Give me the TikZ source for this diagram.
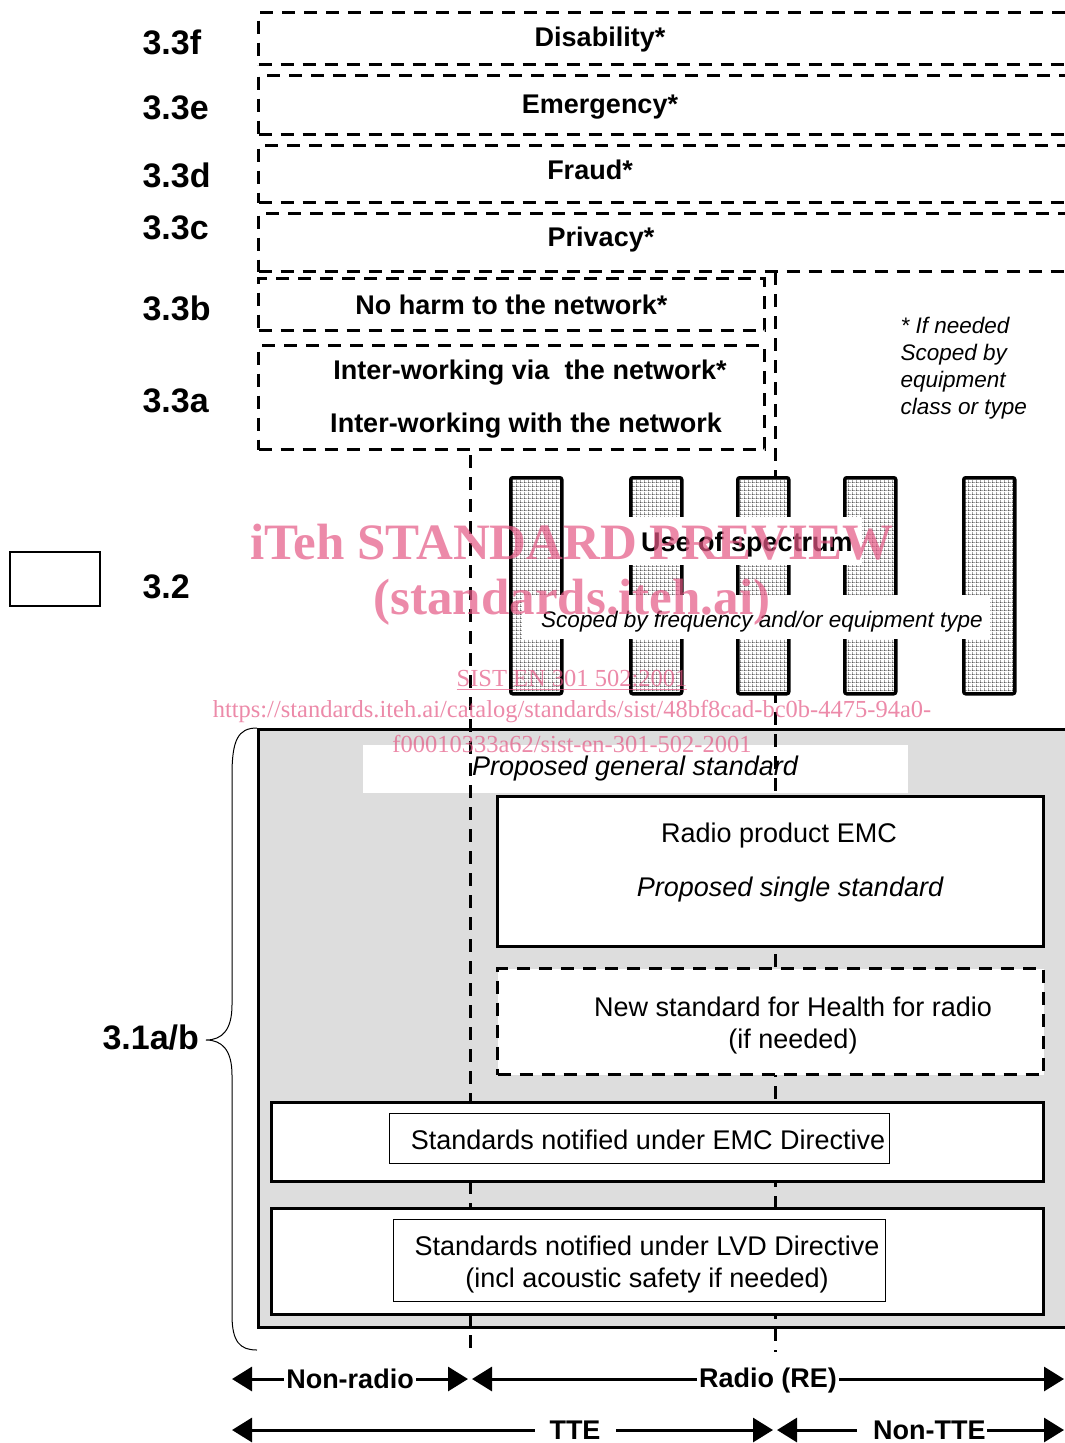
\documentclass[tikz,border=0pt]{standalone}
\usepackage{fontspec}
\setmainfont{Liberation Sans}
\newfontfamily\wmfont{Liberation Serif}
\usetikzlibrary{positioning,arrows.meta,patterns.meta}

\definecolor{panelgray}{RGB}{221,221,221}
\definecolor{wmpink}{RGB}{228,88,132}

\tikzdeclarepattern{
  name=finegrid,
  type=uncolored,
  bounding box={(0pt,0pt) and (4pt,4pt)},
  tile size={(4pt,4pt)},
  code={\draw[line width=1.2pt] (0pt,0pt) -- (4pt,0pt) (0pt,0pt) -- (0pt,4pt);}
}

\begin{document}
\begin{tikzpicture}[
    x=1pt, y=-1pt,
    font=\fontsize{27}{32}\selectfont,
    >={Triangle[length=20pt,width=24pt]},
    optbox/.style ={draw, line width=3pt, dash pattern=on 13pt off 9pt,
                    inner sep=0pt, anchor=north west},
    stdbox/.style ={draw, line width=3pt, fill=white, inner sep=0pt,
                    anchor=north west},
    inbox/.style  ={draw, line width=1pt, fill=white, inner sep=0pt,
                    anchor=north west},
    band/.style   ={draw, line width=3.5pt, rounded corners=2pt,
                    preaction={fill=white}, pattern=finegrid,
                    inner sep=0pt, minimum width=51pt, minimum height=216pt,
                    anchor=north west},
    tag/.style    ={fill=white, inner sep=0pt},
    head/.style   ={font=\bfseries\fontsize{27}{32}\selectfont},
    slant/.style  ={font=\itshape\fontsize{27}{32}\selectfont},
    note/.style   ={font=\itshape\fontsize{22.5}{27}\selectfont},
    sec/.style    ={font=\bfseries\fontsize{34}{40}\selectfont, anchor=west},
    divider/.style={line width=3pt, dash pattern=on 13pt off 9pt},
    span/.style   ={<->, line width=3pt},
    gap/.style    ={head, fill=white, inner ysep=2pt},
    wm/.style     ={text=wmpink, text opacity=0.7,
                    font=\wmfont\fontsize{24.5}{30}\selectfont},
    wmbig/.style  ={wm, font=\wmfont\bfseries\fontsize{51}{60}\selectfont},
  ]
  \useasboundingbox (0,0) rectangle (1065,1443);
  \clip (0,0) rectangle (1065,1443);

  % ------------------------------------------------------ 3.1 panel ---
  \node[stdbox, fill=panelgray, minimum width=850pt, minimum height=598pt]
        (panel) at (257,728) {};
  \node[tag, slant, minimum width=545pt, minimum height=48pt]
        (general) at (635,769) {Proposed general standard};

  % ------------------------------------------ non-radio / radio / TTE ---
  \coordinate (radtop) at (470,455);
  \coordinate (radbot) at (470,1352);
  \coordinate (ttetop) at (775,272);
  \coordinate (ttebot) at (775,1352);
  \draw[divider] (radtop) -- (radbot);
  \draw[divider] (ttetop) -- (ttebot);

  % ------------------------------------------------ boxes in the panel ---
  \node[stdbox, minimum width=546pt, minimum height=150pt] (rpemc) at (496,795) {};
  \node (rpemcT) at (779,836) {Radio product EMC};
  \node[slant] (rpemcS) at (790,890) {Proposed single standard};

  \node[optbox, fill=white, minimum width=546pt, minimum height=106pt]
        (health) at (496,967) {};
  \node[align=center] (healthT) at (793,1025)
        {New standard for Health for radio\\(if needed)};

  \node[stdbox, minimum width=772pt, minimum height=79pt] (emcdir) at (270,1101) {};
  \node[inbox, minimum width=500pt, minimum height=50pt] (emcin) at (389,1113) {};
  \node (emcT) at (648,1140) {Standards notified under EMC Directive};

  \node[stdbox, minimum width=772pt, minimum height=106pt] (lvddir) at (270,1207) {};
  \node[inbox, minimum width=492pt, minimum height=82pt] (lvdin) at (393,1219) {};
  \node[align=center] (lvdT) at (647,1265)
        {Standards notified under LVD Directive\\(incl acoustic safety if needed)};

  % ------------------------------------------------------- 3.3 bands ---
  \node[optbox, minimum width=850pt, minimum height=52pt] (disab) at (257,11) {};
  \node[optbox, minimum width=850pt, minimum height=59pt, below=8pt of disab] (emerg) {};
  \node[optbox, minimum width=850pt, minimum height=57pt, below=8pt of emerg] (fraud) {};
  \node[optbox, minimum width=850pt, minimum height=58pt, below=8pt of fraud] (priv) {};
  \node[head] (disabT) at (600,40)  {Disability*};
  \node[head] (emergT) at (600,107) {Emergency*};
  \node[head] (fraudT) at (590,170) {Fraud*};
  \node[head] (privT)  at (601,240) {Privacy*};

  \node[optbox, head, minimum width=506pt, minimum height=52pt]
        (harm) at (257,277) {No harm to the network*};
  \node[optbox, minimum width=506pt, minimum height=104pt] (inter) at (257,344) {};
  \node[head] (viaT)  at (530,373) {Inter-working via \ the network*};
  \node[head] (withT) at (526,426) {Inter-working with the network};

  \node[note, align=left, anchor=north west] (ifneed) at (897,314)
        {* If needed\\Scoped by\\equipment\\class or type};

  % ------------------------------------------------------ clause labels ---
  \node[sec] (l3f) at (139,42)  {3.3f};
  \node[sec] (l3e) at (139,108) {3.3e};
  \node[sec] (l3d) at (139,175) {3.3d};
  \node[sec] (l3c) at (139,228) {3.3c};
  \node[sec] (l3b) at (139,308) {3.3b};
  \node[sec] (l3a) at (139,401) {3.3a};
  \node[sec] (l32) at (139,587) {3.2};
  \node[sec] (l31) at (99,1038) {3.1a/b};
  \node[draw, line width=2pt, minimum width=90pt, minimum height=54pt,
        anchor=north west] (key) at (9,551) {};

  \draw[line width=1pt] (panel.north west)
        .. controls (238,728) and (232,740) .. (232,775) -- (232,1005)
        .. controls (232,1030) and (222,1040) .. (206,1040)
        .. controls (222,1040) and (232,1050) .. (232,1075) -- (232,1315)
        .. controls (232,1342) and (240,1350) .. (257,1350);

  % ------------------------------------------------------ scope arrows ---
  \coordinate (nrL) at (232,1379);
  \coordinate (nrR) at (468,1379);
  \coordinate (rdL) at (472,1379);
  \coordinate (rdR) at (1064,1379);
  \coordinate (tteL) at (232,1430);
  \coordinate (tteR) at (773,1430);
  \coordinate (ntL) at (777,1430);
  \coordinate (ntR) at (1064,1430);
  \draw[span] (nrL) -- (nrR) node[gap, midway, inner xsep=2pt] {Non-radio};
  \draw[span] (rdL) -- (rdR) node[gap, midway, inner xsep=2pt, yshift=-2pt] {Radio (RE)};
  \draw[span] (tteL) -- (tteR) node[gap, pos=0.634, inner xsep=15pt] {TTE};
  \draw[span] (ntL) -- (ntR) node[gap, pos=0.505, inner xsep=1pt] {\hspace{15pt}Non-TTE};

  % ------------------------------------------------------ 3.2 spectrum ---
  \foreach \x [count=\i] in {509,629,736,843,962}
    \node[band] (bar\i) at (\x,476) {};
  \node[tag, minimum width=249pt, minimum height=48pt] (spec) at (737,541) {};
  \node[head] (specT) at (747,545) {Use of spectrum};
  \node[tag, minimum width=468pt, minimum height=44pt] (scope) at (756,617) {};
  \node[note] (scopeT) at (762,622) {Scoped by frequency and/or equipment type};

  % --------------------------------------------------------- watermark ---
  \node[wmbig] (wm1) at (572,542) {iTeh STANDARD PREVIEW};
  \node[wmbig] (wm2) at (572,602) {(standards.iteh.ai)};
  \node[wm] (wm3) at (572,680) {\underline{SIST EN 301 502:2001}};
  \node[wm] (wm4) at (572,712)
        {https://standards.iteh.ai/catalog/standards/sist/48bf8cad-bc0b-4475-94a0-};
  \node[wm] (wm5) at (572,744) {f00010333a62/sist-en-301-502-2001};

\end{tikzpicture}
\end{document}
